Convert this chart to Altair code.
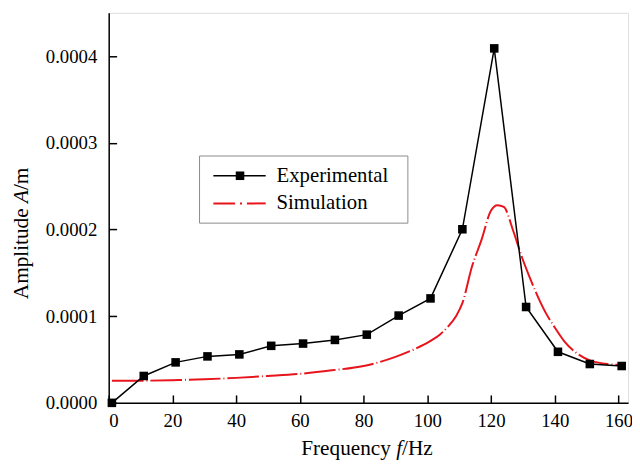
import altair as alt
import pandas as pd

exp_f = [1, 11, 21, 31, 41, 51, 61, 71, 81, 91, 101, 111, 121, 131, 141, 151, 161]
exp_a = [0.0, 0.000031, 0.0000467, 0.0000536, 0.0000559, 0.0000658, 0.0000684,
         0.0000726, 0.0000787, 0.0001007, 0.0001205, 0.0002003, 0.000409,
         0.0001106, 0.0000589, 0.0000448, 0.0000425]

sim_f = [1, 10, 20, 30, 40, 50, 60, 70, 80, 90, 96, 101, 104, 106.5, 109, 111,
         114, 117, 120, 122, 124, 127, 129.5, 132, 137, 140, 143, 147, 151, 156, 161]
sim_a = [0.0000254, 0.0000255, 0.0000262, 0.0000272, 0.0000288, 0.000031, 0.0000335,
         0.0000375, 0.0000425, 0.000053, 0.000062, 0.0000715, 0.000079, 0.000088,
         0.0001, 0.000115, 0.000157, 0.000188, 0.000222, 0.000228, 0.000226,
         0.000198, 0.000170, 0.000146, 0.000105, 0.000087, 0.000071, 0.000057,
         0.000049, 0.000045, 0.0000437]

x_ticks = [0, 20, 40, 60, 80, 100, 120, 140, 160]
y_ticks = [0.0, 0.0001, 0.0002, 0.0003, 0.0004]
legend_labels = ["Experimental", "Simulation"]
x_title_parts = ["Frequency", "f", "/Hz"]
y_title_parts = ["Amplitude", "A", "/m"]

FONT = "Liberation Serif"
RED = "#e8141c"
W, H = 526, 395
XDOM = [0, 163]
YDOM = [0, 0.00045]

exp_df = pd.DataFrame({"f": exp_f, "a": exp_a})
sim_df = pd.DataFrame({"f": sim_f, "a": sim_a})
one = pd.DataFrame({"k": [0]})

xs = alt.Scale(domain=XDOM, nice=False, zero=False)
ys = alt.Scale(domain=YDOM, nice=False)

x_main = alt.X("f:Q", scale=xs, axis=alt.Axis(
    values=x_ticks, title=None, ticks=False, grid=False,
    labelFont=FONT, labelFontSize=19, labelColor="black",
    domainColor="black", domainWidth=1.5, labelPadding=9))
y_main = alt.Y("a:Q", scale=ys, axis=alt.Axis(
    values=y_ticks, format=".4f", title=None, ticks=False, grid=False,
    labelFont=FONT, labelFontSize=19, labelColor="black",
    domainColor="black", domainWidth=1.5, labelPadding=12))

exp_line = alt.Chart(exp_df).mark_line(color="black", strokeWidth=1.5).encode(x=x_main, y=y_main)
exp_pts = alt.Chart(exp_df).mark_square(color="black", size=75, opacity=1).encode(x=x_main, y=y_main)
sim_line = alt.Chart(sim_df).mark_line(
    color=RED, strokeWidth=2, interpolate="monotone", strokeDash=[32, 3, 1, 3]
).encode(x=x_main, y=y_main)

# legend
leg_box = alt.Chart(one).mark_rect(fill="white", stroke="#8a8a8a", strokeWidth=1).encode(
    x=alt.value(92), x2=alt.value(303), y=alt.value(145), y2=alt.value(213))
leg_l1 = alt.Chart(one).mark_rule(color="black", strokeWidth=1.5).encode(
    x=alt.value(106), x2=alt.value(159), y=alt.value(165))
leg_p1 = alt.Chart(one).mark_square(color="black", size=75, opacity=1).encode(
    x=alt.value(133), y=alt.value(165))
leg_l2 = alt.Chart(one).mark_rule(color=RED, strokeWidth=2, strokeDash=[22, 5, 2, 5]).encode(
    x=alt.value(106), x2=alt.value(159), y=alt.value(193))
leg_t1 = alt.Chart(one).mark_text(align="left", baseline="middle", font=FONT, fontSize=21,
                                  color="black", text=legend_labels[0]).encode(
    x=alt.value(170), y=alt.value(165))
leg_t2 = alt.Chart(one).mark_text(align="left", baseline="middle", font=FONT, fontSize=21,
                                  color="black", text=legend_labels[1]).encode(
    x=alt.value(170), y=alt.value(193))

# axis titles with italic symbols
XT = 21.5
x0, xb = 195, 448
xt1 = alt.Chart(one).mark_text(align="left", baseline="alphabetic", font=FONT, fontSize=XT,
                               color="black", text=x_title_parts[0]).encode(
    x=alt.value(x0), y=alt.value(xb))
xt2 = alt.Chart(one).mark_text(align="left", baseline="alphabetic", font=FONT, fontSize=XT,
                               fontStyle="italic", color="black", text=x_title_parts[1]).encode(
    x=alt.value(x0 + 4.471 * XT), y=alt.value(xb))
xt3 = alt.Chart(one).mark_text(align="left", baseline="alphabetic", font=FONT, fontSize=XT,
                               color="black", text=x_title_parts[2]).encode(
    x=alt.value(x0 + 4.471 * XT + 0.278 * XT), y=alt.value(xb))

YT = 21.5
yb, y0 = -82, 290
yt1 = alt.Chart(one).mark_text(align="left", baseline="alphabetic", font=FONT, fontSize=YT,
                               angle=270, color="black", text=y_title_parts[0]).encode(
    x=alt.value(yb), y=alt.value(y0))
yt2 = alt.Chart(one).mark_text(align="left", baseline="alphabetic", font=FONT, fontSize=YT,
                               angle=270, fontStyle="italic", color="black",
                               text=y_title_parts[1]).encode(
    x=alt.value(yb), y=alt.value(y0 - 4.528 * YT))
yt3 = alt.Chart(one).mark_text(align="left", baseline="alphabetic", font=FONT, fontSize=YT,
                               angle=270, color="black", text=y_title_parts[2]).encode(
    x=alt.value(yb), y=alt.value(y0 - 4.528 * YT - 0.611 * YT))

main = alt.layer(sim_line, exp_line, exp_pts, leg_box, leg_l1, leg_p1, leg_l2, leg_t1, leg_t2,
                 xt1, xt2, xt3, yt1, yt2, yt3)

# inward ticks via opposite-side axes
tick_layer = alt.Chart(exp_df).mark_point(opacity=0).encode(
    x=alt.X("f:Q", scale=xs, axis=alt.Axis(
        orient="top", offset=-H, values=x_ticks, labels=False, domain=False,
        grid=False, tickSize=8, tickColor="black", tickWidth=1.5, title=None)),
    y=alt.Y("a:Q", scale=ys, axis=alt.Axis(
        orient="right", offset=-W, values=y_ticks, labels=False, domain=False,
        grid=False, tickSize=8, tickColor="black", tickWidth=1.5, title=None)),
)

chart = alt.layer(main, tick_layer).resolve_scale(
    x="independent", y="independent"
).properties(
    width=W, height=H,
    padding={"left": 102, "top": 2, "right": 4, "bottom": 57},
    autosize=alt.AutoSizeParams(type="none"),
).configure_view(stroke=None).configure(background="white")

chart.save("out.html", embed_options={"renderer": "svg", "actions": False})
